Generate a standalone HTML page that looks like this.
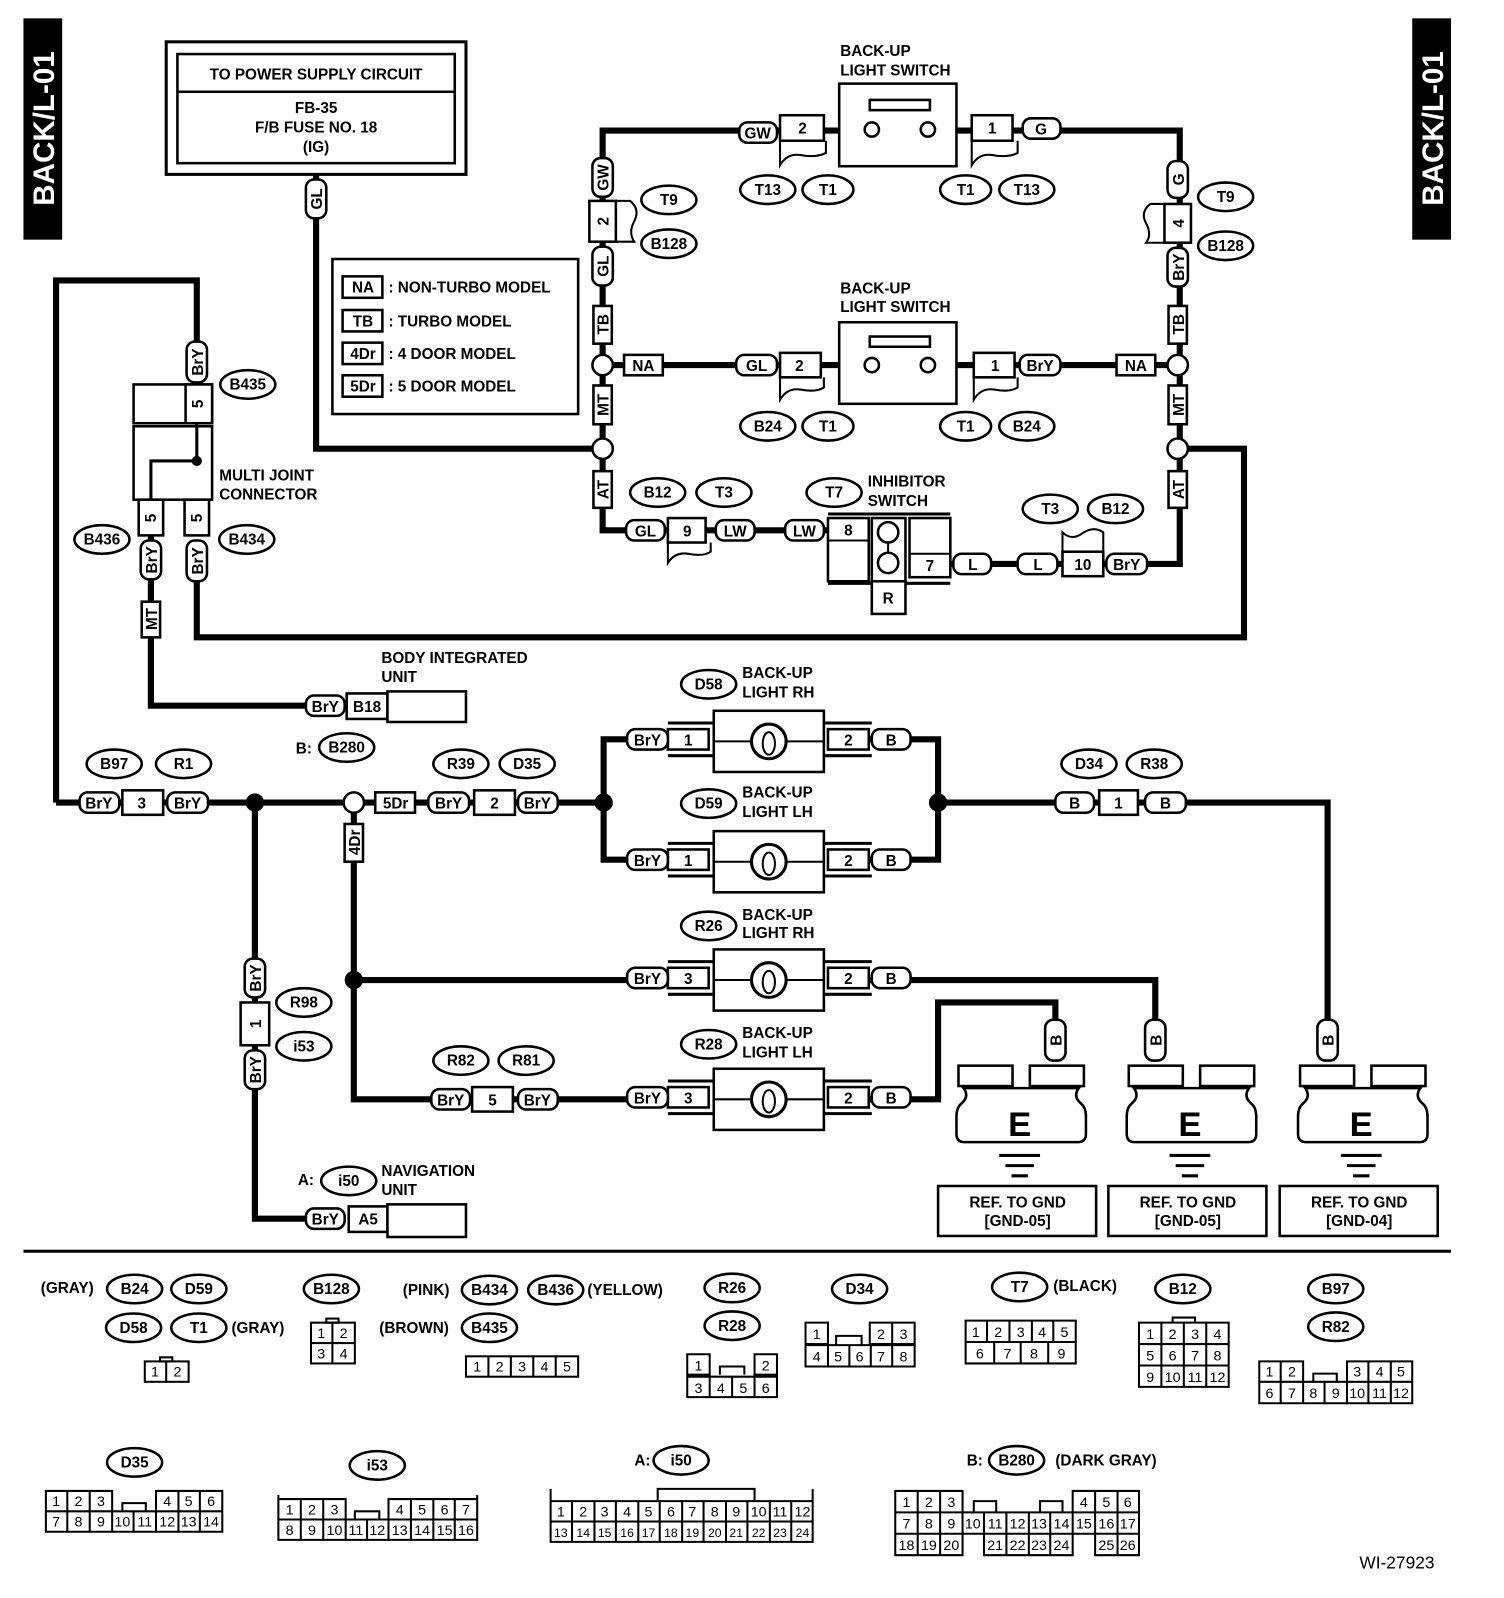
<!DOCTYPE html>
<html><head><meta charset="utf-8"><style>
html,body{margin:0;padding:0;background:#fff}
svg{display:block}
text{font-family:"Liberation Sans",sans-serif;font-weight:bold;font-size:15px;text-anchor:middle;fill:#000}
.l{text-anchor:start}
.w{fill:none;stroke:#000;stroke-width:6}
.b{fill:#fff;stroke:#000;stroke-width:2.5}
.n{fill:none;stroke:#000;stroke-width:2}
.s{font-size:14px;font-weight:normal}
</style></head><body>
<svg width="1504" height="1598" viewBox="0 0 1475 1567" preserveAspectRatio="none" xmlns="http://www.w3.org/2000/svg">
<rect x="23" y="18" width="38" height="217" fill="#000"/>
<text transform="translate(53,126) rotate(-90)" style="font-size:29px;fill:#fff">BACK/L-01</text>
<rect x="1385" y="18" width="38" height="217" fill="#000"/>
<text transform="translate(1415,126) rotate(-90)" style="font-size:29px;fill:#fff">BACK/L-01</text>

<path class="w" d="M310 171V440H591"/>
<path class="w" d="M591 440V128H770M800 128H830M935 128H1157V553H1040"/>
<path class="w" d="M591 358H770M800 358H830M935 358H1155"/>
<path class="w" d="M591 440V520H660M690 520H812"/>
<path class="w" d="M932 553H1045"/>
<path class="w" d="M1155 440H1220V625H193V570"/>
<path class="w" d="M55 787V275H193V380"/>
<path class="w" d="M148 525V692H300"/>
<path class="w" d="M55 787H592"/>
<path class="w" d="M592 787V725H660M592 787V843H660M850 725H920V843H850M920 787H1302V1000"/>
<path class="w" d="M347 787V1078H660M347 961H660M850 961H1133V1000"/>
<path class="w" d="M850 1078H920V983H1035V1000"/>
<path class="w" d="M250 787V1195H300"/>
<path class="n" d="M810 128H823M938 128H953M805 358H823M938 358H955"/>

<!-- connector flags -->
<g class="b" style="stroke-width:2">
<path d="M765 138V162Q772 150 785 152Q800 155 810 150V138"/>
<path d="M953 138V162Q960 150 973 152Q988 155 998 150V138"/>
<path d="M765 370V392Q772 380 785 382Q800 385 808 380V370"/>
<path d="M955 370V392Q962 380 975 382Q990 385 998 380V370"/>
<path d="M655 532V552Q662 541 675 543Q690 546 697 541V532"/>
<path d="M1042 541V522Q1050 530 1060 524Q1072 515 1082 522V541"/>
<path d="M604 197H618Q628 205 622 217Q616 228 622 237H604"/>
<path d="M1142 200H1128Q1118 208 1124 219Q1130 230 1124 238H1142"/>
</g>

<rect x="163" y="41" width="294" height="130" class="b" style="stroke-width:3"/>
<rect x="174" y="53" width="272" height="107" class="b"/>
<line x1="174" y1="90" x2="446" y2="90" class="n" style="stroke-width:2.5"/>
<text x="310" y="78">TO POWER SUPPLY CIRCUIT</text>
<text x="310" y="111">FB-35</text>
<text x="310" y="130">F/B FUSE NO. 18</text>
<text x="310" y="149">(IG)</text>

<rect x="326" y="254" width="241" height="152" class="b"/>
<rect x="336" y="271" width="39" height="21" class="b"/><text x="356" y="287">NA</text><text class="l" x="381" y="287">: NON-TURBO MODEL</text>
<rect x="336" y="304" width="39" height="21" class="b"/><text x="356" y="320">TB</text><text class="l" x="381" y="320">: TURBO MODEL</text>
<rect x="336" y="336" width="39" height="21" class="b"/><text x="356" y="352">4Dr</text><text class="l" x="381" y="352">: 4 DOOR MODEL</text>
<rect x="336" y="368" width="39" height="21" class="b"/><text x="356" y="384">5Dr</text><text class="l" x="381" y="384">: 5 DOOR MODEL</text>

<g>
<rect x="300" y="176" width="20" height="38" rx="8" class="b"/><text transform="translate(316,195) rotate(-90)">GL</text>
<rect x="581" y="155" width="20" height="38" rx="8" class="b"/><text transform="translate(597,174) rotate(-90)">GW</text>
<rect x="578" y="197" width="26" height="40" class="b"/><text transform="translate(597,217) rotate(-90)">2</text>
<rect x="581" y="242" width="20" height="38" rx="8" class="b"/><text transform="translate(597,261) rotate(-90)">GL</text>
<rect x="582" y="300" width="18" height="37" class="b"/><text transform="translate(597,318) rotate(-90)">TB</text>
<rect x="582" y="378" width="18" height="38" class="b"/><text transform="translate(597,397) rotate(-90)">MT</text>
<rect x="582" y="462" width="18" height="36" class="b"/><text transform="translate(597,480) rotate(-90)">AT</text>
<rect x="1145" y="158" width="20" height="36" rx="8" class="b"/><text transform="translate(1161,176) rotate(-90)">G</text>
<rect x="1142" y="200" width="26" height="38" class="b"/><text transform="translate(1161,219) rotate(-90)">4</text>
<rect x="1145" y="243" width="20" height="38" rx="8" class="b"/><text transform="translate(1161,262) rotate(-90)">BrY</text>
<rect x="1146" y="300" width="18" height="37" class="b"/><text transform="translate(1161,318) rotate(-90)">TB</text>
<rect x="1146" y="378" width="18" height="38" class="b"/><text transform="translate(1161,397) rotate(-90)">MT</text>
<rect x="1146" y="462" width="18" height="36" class="b"/><text transform="translate(1161,480) rotate(-90)">AT</text>
<rect x="183" y="335" width="20" height="40" rx="8" class="b"/><text transform="translate(199,355) rotate(-90)">BrY</text>
<rect x="138" y="530" width="20" height="38" rx="8" class="b"/><text transform="translate(154,549) rotate(-90)">BrY</text>
<rect x="183" y="530" width="20" height="40" rx="8" class="b"/><text transform="translate(199,550) rotate(-90)">BrY</text>
<rect x="139" y="590" width="18" height="35" class="b"/><text transform="translate(154,607) rotate(-90)">MT</text>
<rect x="338" y="808" width="18" height="37" class="b"/><text transform="translate(353,826) rotate(-90)">4Dr</text>
<rect x="240" y="940" width="20" height="38" rx="8" class="b"/><text transform="translate(256,959) rotate(-90)">BrY</text>
<rect x="236" y="983" width="28" height="42" class="b"/><text transform="translate(256,1004) rotate(-90)">1</text>
<rect x="240" y="1030" width="20" height="38" rx="8" class="b"/><text transform="translate(256,1049) rotate(-90)">BrY</text>
<rect x="1025" y="1000" width="20" height="40" rx="8" class="b"/><text transform="translate(1041,1020) rotate(-90)">B</text>
<rect x="1123" y="1000" width="20" height="40" rx="8" class="b"/><text transform="translate(1139,1020) rotate(-90)">B</text>
<rect x="1292" y="1000" width="20" height="40" rx="8" class="b"/><text transform="translate(1308,1020) rotate(-90)">B</text>
</g>

<circle cx="591" cy="358" r="10" class="b"/><circle cx="591" cy="440" r="10" class="b"/>
<circle cx="1155" cy="358" r="10" class="b"/><circle cx="1155" cy="440" r="10" class="b"/>
<circle cx="347" cy="787" r="10" class="b"/>
<circle cx="250" cy="787" r="9"/><circle cx="592" cy="787" r="9"/><circle cx="920" cy="787" r="9"/><circle cx="347" cy="961" r="9"/>

<g>
<rect x="725" y="120" width="37" height="20" rx="8" class="b"/><text x="743" y="136">GW</text>
<rect x="765" y="113" width="43" height="25" class="b"/><text x="787" y="131">2</text>
<rect x="953" y="113" width="40" height="25" class="b"/><text x="973" y="131">1</text>
<rect x="1003" y="116" width="37" height="20" rx="8" class="b"/><text x="1021" y="132">G</text>
<rect x="612" y="348" width="38" height="20" class="b"/><text x="631" y="364">NA</text>
<rect x="722" y="348" width="40" height="20" rx="8" class="b"/><text x="742" y="364">GL</text>
<rect x="765" y="346" width="40" height="24" class="b"/><text x="784" y="364">2</text>
<rect x="955" y="346" width="40" height="24" class="b"/><text x="976" y="364">1</text>
<rect x="1000" y="348" width="40" height="20" rx="8" class="b"/><text x="1020" y="364">BrY</text>
<rect x="1095" y="348" width="38" height="20" class="b"/><text x="1114" y="364">NA</text>
<rect x="614" y="510" width="38" height="20" rx="8" class="b"/><text x="633" y="526">GL</text>
<rect x="655" y="508" width="37" height="24" class="b"/><text x="674" y="526">9</text>
<rect x="702" y="510" width="38" height="20" rx="8" class="b"/><text x="721" y="526">LW</text>
<rect x="770" y="510" width="38" height="20" rx="8" class="b"/><text x="789" y="526">LW</text>
<rect x="935" y="543" width="37" height="20" rx="8" class="b"/><text x="954" y="559">L</text>
<rect x="998" y="543" width="39" height="20" rx="8" class="b"/><text x="1018" y="559">L</text>
<rect x="1042" y="541" width="40" height="24" class="b"/><text x="1062" y="559">10</text>
<rect x="1085" y="543" width="40" height="20" rx="8" class="b"/><text x="1105" y="559">BrY</text>
<rect x="300" y="682" width="38" height="20" rx="8" class="b"/><text x="319" y="698">BrY</text>
<rect x="340" y="680" width="40" height="25" class="b"/><text x="360" y="698">B18</text>
<rect x="380" y="678" width="77" height="30" class="b"/>
<rect x="78" y="777" width="39" height="20" rx="8" class="b"/><text x="97" y="793">BrY</text>
<rect x="120" y="775" width="40" height="24" class="b"/><text x="139" y="793">3</text>
<rect x="164" y="777" width="40" height="20" rx="8" class="b"/><text x="184" y="793">BrY</text>
<rect x="368" y="777" width="39" height="20" class="b"/><text x="388" y="793">5Dr</text>
<rect x="420" y="777" width="40" height="20" rx="8" class="b"/><text x="440" y="793">BrY</text>
<rect x="465" y="775" width="40" height="24" class="b"/><text x="485" y="793">2</text>
<rect x="508" y="777" width="39" height="20" rx="8" class="b"/><text x="527" y="793">BrY</text>
<rect x="1035" y="777" width="38" height="20" rx="8" class="b"/><text x="1054" y="793">B</text>
<rect x="1078" y="775" width="38" height="24" class="b"/><text x="1097" y="793">1</text>
<rect x="1123" y="777" width="40" height="20" rx="8" class="b"/><text x="1143" y="793">B</text>
<rect x="423" y="1068" width="38" height="20" rx="8" class="b"/><text x="442" y="1084">BrY</text>
<rect x="463" y="1066" width="40" height="24" class="b"/><text x="483" y="1084">5</text>
<rect x="508" y="1068" width="39" height="20" rx="8" class="b"/><text x="527" y="1084">BrY</text>
<rect x="300" y="1185" width="38" height="20" rx="8" class="b"/><text x="319" y="1201">BrY</text>
<rect x="342" y="1183" width="38" height="25" class="b"/><text x="361" y="1201">A5</text>
<rect x="380" y="1181" width="77" height="32" class="b"/>
</g>

<rect x="823" y="82" width="115" height="81" class="b"/>
<rect x="853" y="98" width="59" height="10" class="b"/>
<circle cx="855" cy="127" r="7" class="b"/><circle cx="910" cy="127" r="7" class="b"/>
<rect x="823" y="316" width="115" height="80" class="b"/>
<rect x="853" y="330" width="59" height="10" class="b"/>
<circle cx="855" cy="358" r="7" class="b"/><circle cx="910" cy="358" r="7" class="b"/>
<text class="l" x="824" y="55">BACK-UP</text><text class="l" x="824" y="74">LIGHT SWITCH</text>
<text class="l" x="824" y="288">BACK-UP</text><text class="l" x="824" y="306">LIGHT SWITCH</text>

<path class="n" style="stroke-width:3" d="M812 504H932M812 572H855M888 572H932"/>
<rect x="812" y="508" width="40" height="62" class="b"/><line x1="812" y1="530" x2="852" y2="530" class="n"/><text x="832" y="525">8</text>
<rect x="855" y="508" width="33" height="62" class="b"/><rect x="855" y="570" width="33" height="32" class="b"/><text x="871" y="592">R</text>
<line x1="871" y1="522" x2="871" y2="552" class="n"/><circle cx="871" cy="522" r="10" class="b"/><circle cx="871" cy="552" r="10" class="b"/>
<rect x="892" y="508" width="40" height="58" class="b"/><line x1="892" y1="543" x2="932" y2="543" class="n"/><text x="912" y="560">7</text>
<text class="l" x="851" y="477">INHIBITOR</text><text class="l" x="851" y="496">SWITCH</text>

<rect x="131" y="377" width="77" height="38" class="b"/><rect x="182" y="377" width="26" height="38" class="b"/><text transform="translate(199,396) rotate(-90)">5</text>
<rect x="131" y="418" width="77" height="72" class="b"/>
<path class="n" style="stroke-width:3" d="M193 415V452H148V490"/><circle cx="193" cy="452" r="5"/>
<rect x="136" y="490" width="24" height="35" class="b"/><text transform="translate(153,508) rotate(-90)">5</text>
<rect x="181" y="490" width="24" height="35" class="b"/><text transform="translate(198,508) rotate(-90)">5</text>
<text class="l" x="215" y="471">MULTI JOINT</text><text class="l" x="215" y="490">CONNECTOR</text>
<text class="l" x="374" y="650">BODY INTEGRATED</text><text class="l" x="374" y="669">UNIT</text>
<text x="298" y="739">B:</text>
<text x="300" y="1162">A:</text>
<text class="l" x="374" y="1153">NAVIGATION</text><text class="l" x="374" y="1172">UNIT</text>

<g id="lamps">
<path class="n" style="stroke-width:3" d="M655 709H700M655 741H700M808 709H855M808 741H855"/>
<rect x="655" y="715" width="40" height="20" class="b"/><text x="675" y="731">1</text>
<rect x="700" y="697" width="108" height="60" class="b"/><line x1="700" y1="727" x2="808" y2="727" class="n"/>
<circle cx="754" cy="727" r="17" class="b" style="stroke-width:3"/><ellipse cx="754" cy="729" rx="6" ry="11" class="n"/>
<rect x="812" y="715" width="40" height="20" class="b"/><text x="832" y="731">2</text>
<rect x="615" y="715" width="40" height="20" rx="8" class="b"/><text x="635" y="731">BrY</text>
<rect x="855" y="715" width="38" height="20" rx="8" class="b"/><text x="874" y="731">B</text>
</g>
<use href="#lamps" y="118"/>
<g transform="translate(0,234)">
<path class="n" style="stroke-width:3" d="M655 709H700M655 741H700M808 709H855M808 741H855"/>
<rect x="655" y="715" width="40" height="20" class="b"/><text x="675" y="731">3</text>
<rect x="700" y="697" width="108" height="60" class="b"/><line x1="700" y1="727" x2="808" y2="727" class="n"/>
<circle cx="754" cy="727" r="17" class="b" style="stroke-width:3"/><ellipse cx="754" cy="729" rx="6" ry="11" class="n"/>
<rect x="812" y="715" width="40" height="20" class="b"/><text x="832" y="731">2</text>
<rect x="615" y="715" width="40" height="20" rx="8" class="b"/><text x="635" y="731">BrY</text>
<rect x="855" y="715" width="38" height="20" rx="8" class="b"/><text x="874" y="731">B</text>
</g>
<g transform="translate(0,351)">
<path class="n" style="stroke-width:3" d="M655 709H700M655 741H700M808 709H855M808 741H855"/>
<rect x="655" y="715" width="40" height="20" class="b"/><text x="675" y="731">3</text>
<rect x="700" y="697" width="108" height="60" class="b"/><line x1="700" y1="727" x2="808" y2="727" class="n"/>
<circle cx="754" cy="727" r="17" class="b" style="stroke-width:3"/><ellipse cx="754" cy="729" rx="6" ry="11" class="n"/>
<rect x="812" y="715" width="40" height="20" class="b"/><text x="832" y="731">2</text>
<rect x="615" y="715" width="40" height="20" rx="8" class="b"/><text x="635" y="731">BrY</text>
<rect x="855" y="715" width="38" height="20" rx="8" class="b"/><text x="874" y="731">B</text>
</g>
<text class="l" x="728" y="665">BACK-UP</text><text class="l" x="728" y="684">LIGHT RH</text>
<text class="l" x="728" y="782">BACK-UP</text><text class="l" x="728" y="801">LIGHT LH</text>
<text class="l" x="728" y="902">BACK-UP</text><text class="l" x="728" y="920">LIGHT RH</text>
<text class="l" x="728" y="1018">BACK-UP</text><text class="l" x="728" y="1037">LIGHT LH</text>

<g id="gnd">
<rect x="940" y="1045" width="53" height="20" class="b"/><rect x="1010" y="1045" width="53" height="20" class="b"/>
<path class="b" d="M945 1067H1058Q1052 1075 1060 1082Q1065 1086 1065 1095V1112Q1065 1120 1057 1120H946Q938 1120 938 1112V1095Q938 1086 943 1082Q951 1075 945 1067Z"/>
<text x="1000" y="1114" style="font-size:34px">E</text>
<path class="n" style="stroke-width:3" d="M980 1133H1020M986 1143H1014M992 1153H1008"/>
<rect x="920" y="1163" width="155" height="49" class="b"/>
</g>
<text x="998" y="1184">REF. TO GND</text><text x="998" y="1202">[GND-05]</text>
<use href="#gnd" x="167"/>
<text x="1165" y="1184">REF. TO GND</text><text x="1165" y="1202">[GND-05]</text>
<use href="#gnd" x="335"/>
<text x="1333" y="1184">REF. TO GND</text><text x="1333" y="1202">[GND-04]</text>

<g>
<ellipse cx="753" cy="186" rx="27" ry="14" class="b"/><text x="753" y="191">T13</text>
<ellipse cx="812" cy="186" rx="25" ry="14" class="b"/><text x="812" y="191">T1</text>
<ellipse cx="947" cy="186" rx="25" ry="14" class="b"/><text x="947" y="191">T1</text>
<ellipse cx="1007" cy="186" rx="27" ry="14" class="b"/><text x="1007" y="191">T13</text>
<ellipse cx="656" cy="196" rx="27" ry="14" class="b"/><text x="656" y="201">T9</text>
<ellipse cx="656" cy="239" rx="27" ry="14" class="b"/><text x="656" y="244">B128</text>
<ellipse cx="1202" cy="193" rx="27" ry="14" class="b"/><text x="1202" y="198">T9</text>
<ellipse cx="1202" cy="241" rx="27" ry="14" class="b"/><text x="1202" y="246">B128</text>
<ellipse cx="753" cy="418" rx="27" ry="14" class="b"/><text x="753" y="423">B24</text>
<ellipse cx="812" cy="418" rx="25" ry="14" class="b"/><text x="812" y="423">T1</text>
<ellipse cx="947" cy="418" rx="25" ry="14" class="b"/><text x="947" y="423">T1</text>
<ellipse cx="1007" cy="418" rx="27" ry="14" class="b"/><text x="1007" y="423">B24</text>
<ellipse cx="645" cy="483" rx="27" ry="14" class="b"/><text x="645" y="488">B12</text>
<ellipse cx="710" cy="483" rx="27" ry="14" class="b"/><text x="710" y="488">T3</text>
<ellipse cx="818" cy="483" rx="27" ry="14" class="b"/><text x="818" y="488">T7</text>
<ellipse cx="1030" cy="499" rx="27" ry="14" class="b"/><text x="1030" y="504">T3</text>
<ellipse cx="1094" cy="499" rx="27" ry="14" class="b"/><text x="1094" y="504">B12</text>
<ellipse cx="243" cy="377" rx="27" ry="14" class="b"/><text x="243" y="382">B435</text>
<ellipse cx="100" cy="529" rx="27" ry="14" class="b"/><text x="100" y="534">B436</text>
<ellipse cx="242" cy="529" rx="27" ry="14" class="b"/><text x="242" y="534">B434</text>
<ellipse cx="340" cy="733" rx="27" ry="14" class="b"/><text x="340" y="738">B280</text>
<ellipse cx="112" cy="749" rx="27" ry="14" class="b"/><text x="112" y="754">B97</text>
<ellipse cx="180" cy="749" rx="27" ry="14" class="b"/><text x="180" y="754">R1</text>
<ellipse cx="452" cy="749" rx="27" ry="14" class="b"/><text x="452" y="754">R39</text>
<ellipse cx="517" cy="749" rx="27" ry="14" class="b"/><text x="517" y="754">D35</text>
<ellipse cx="695" cy="671" rx="27" ry="14" class="b"/><text x="695" y="676">D58</text>
<ellipse cx="695" cy="788" rx="27" ry="14" class="b"/><text x="695" y="793">D59</text>
<ellipse cx="695" cy="908" rx="27" ry="14" class="b"/><text x="695" y="913">R26</text>
<ellipse cx="695" cy="1024" rx="27" ry="14" class="b"/><text x="695" y="1029">R28</text>
<ellipse cx="1068" cy="749" rx="27" ry="14" class="b"/><text x="1068" y="754">D34</text>
<ellipse cx="1132" cy="749" rx="27" ry="14" class="b"/><text x="1132" y="754">R38</text>
<ellipse cx="452" cy="1040" rx="27" ry="14" class="b"/><text x="452" y="1045">R82</text>
<ellipse cx="516" cy="1040" rx="27" ry="14" class="b"/><text x="516" y="1045">R81</text>
<ellipse cx="298" cy="983" rx="27" ry="14" class="b"/><text x="298" y="988">R98</text>
<ellipse cx="298" cy="1026" rx="27" ry="14" class="b"/><text x="298" y="1031">i53</text>
<ellipse cx="342" cy="1158" rx="27" ry="14" class="b"/><text x="342" y="1163">i50</text>
</g>

<line x1="23" y1="1227" x2="1423" y2="1227" class="n" style="stroke-width:3"/>

<g>
<text class="l" x="40" y="1268">(GRAY)</text>
<ellipse cx="132" cy="1264" rx="27" ry="14" class="b"/><text x="132" y="1269">B24</text>
<ellipse cx="195" cy="1264" rx="27" ry="14" class="b"/><text x="195" y="1269">D59</text>
<ellipse cx="131" cy="1302" rx="27" ry="14" class="b"/><text x="131" y="1307">D58</text>
<ellipse cx="195" cy="1302" rx="27" ry="14" class="b"/><text x="195" y="1307">T1</text>
<text class="l" x="227" y="1307">(GRAY)</text>
<ellipse cx="325" cy="1264" rx="27" ry="14" class="b"/><text x="325" y="1269">B128</text>
<text class="l" x="395" y="1270">(PINK)</text>
<ellipse cx="480" cy="1265" rx="27" ry="14" class="b"/><text x="480" y="1270">B434</text>
<ellipse cx="545" cy="1265" rx="27" ry="14" class="b"/><text x="545" y="1270">B436</text>
<text class="l" x="576" y="1270">(YELLOW)</text>
<text class="l" x="372" y="1307">(BROWN)</text>
<ellipse cx="480" cy="1302" rx="27" ry="14" class="b"/><text x="480" y="1307">B435</text>
<ellipse cx="718" cy="1263" rx="27" ry="14" class="b"/><text x="718" y="1268">R26</text>
<ellipse cx="718" cy="1300" rx="27" ry="14" class="b"/><text x="718" y="1305">R28</text>
<ellipse cx="843" cy="1264" rx="27" ry="14" class="b"/><text x="843" y="1269">D34</text>
<ellipse cx="1000" cy="1262" rx="27" ry="14" class="b"/><text x="1000" y="1267">T7</text>
<text class="l" x="1033" y="1266">(BLACK)</text>
<ellipse cx="1160" cy="1264" rx="27" ry="14" class="b"/><text x="1160" y="1269">B12</text>
<ellipse cx="1310" cy="1264" rx="27" ry="14" class="b"/><text x="1310" y="1269">B97</text>
<ellipse cx="1310" cy="1301" rx="27" ry="14" class="b"/><text x="1310" y="1306">R82</text>
<ellipse cx="132" cy="1434" rx="27" ry="14" class="b"/><text x="132" y="1439">D35</text>
<ellipse cx="370" cy="1437" rx="27" ry="14" class="b"/><text x="370" y="1442">i53</text>
<text x="630" y="1437">A:</text>
<ellipse cx="668" cy="1432" rx="27" ry="14" class="b"/><text x="668" y="1437">i50</text>
<text x="956" y="1437">B:</text>
<ellipse cx="997" cy="1432" rx="27" ry="14" class="b"/><text x="997" y="1437">B280</text>
<text class="l" x="1035" y="1437">(DARK GRAY)</text>
</g>

<g>
<rect x="142" y="1335" width="43" height="20" class="n"/><line x1="163" y1="1335" x2="163" y2="1355" class="n"/><rect x="157" y="1331" width="12" height="4" class="n"/>
<text x="152" y="1350" class="s">1</text><text x="174" y="1350" class="s">2</text>
<rect x="305" y="1297" width="43" height="40" class="n"/><path class="n" d="M326 1297V1337M305 1317H348"/><rect x="320" y="1293" width="12" height="4" class="n"/>
<text x="315" y="1312" class="s">1</text><text x="337" y="1312" class="s">2</text><text x="315" y="1332" class="s">3</text><text x="337" y="1332" class="s">4</text>
<rect x="457" y="1330" width="110" height="20" class="n"/><path class="n" d="M479 1330V1350M501 1330V1350M523 1330V1350M545 1330V1350"/>
<text x="468" y="1345" class="s">1</text><text x="490" y="1345" class="s">2</text><text x="512" y="1345" class="s">3</text><text x="534" y="1345" class="s">4</text><text x="556" y="1345" class="s">5</text>
<path class="n" d="M674 1328H696V1348H674ZM740 1328H762V1348H740ZM674 1350H762V1370H674ZM696 1350V1370M718 1350V1370M740 1350V1370M706 1348V1340H730V1348"/>
<text x="685" y="1344" class="s">1</text><text x="751" y="1344" class="s">2</text><text x="685" y="1366" class="s">3</text><text x="707" y="1366" class="s">4</text><text x="729" y="1366" class="s">5</text><text x="751" y="1366" class="s">6</text>
<path class="n" d="M790 1297H812V1318H790ZM853 1297H897V1318H853ZM875 1297V1318M790 1319H897V1340H790ZM812 1319V1340M833 1319V1340M854 1319V1340M875 1319V1340M820 1318V1310H845V1318"/>
<text x="801" y="1313" class="s">1</text><text x="864" y="1313" class="s">2</text><text x="886" y="1313" class="s">3</text><text x="801" y="1335" class="s">4</text><text x="822" y="1335" class="s">5</text><text x="843" y="1335" class="s">6</text><text x="864" y="1335" class="s">7</text><text x="886" y="1335" class="s">8</text>
<path class="n" d="M947 1295H1055V1316H947ZM968 1295V1316M990 1295V1316M1012 1295V1316M1033 1295V1316M947 1316H1055V1337H947ZM975 1316V1337M1001 1316V1337M1028 1316V1337"/>
<text x="957" y="1311" class="s">1</text><text x="979" y="1311" class="s">2</text><text x="1001" y="1311" class="s">3</text><text x="1022" y="1311" class="s">4</text><text x="1044" y="1311" class="s">5</text>
<text x="961" y="1332" class="s">6</text><text x="988" y="1332" class="s">7</text><text x="1014" y="1332" class="s">8</text><text x="1041" y="1332" class="s">9</text>
<path class="n" d="M1117 1297H1205V1360H1117ZM1117 1318H1205M1117 1339H1205M1139 1297V1360M1161 1297V1360M1183 1297V1360M1150 1297V1292H1172V1297"/>
<text x="1128" y="1313" class="s">1</text><text x="1150" y="1313" class="s">2</text><text x="1172" y="1313" class="s">3</text><text x="1194" y="1313" class="s">4</text>
<text x="1128" y="1334" class="s">5</text><text x="1150" y="1334" class="s">6</text><text x="1172" y="1334" class="s">7</text><text x="1194" y="1334" class="s">8</text>
<text x="1128" y="1355" class="s">9</text><text x="1150" y="1355" class="s">10</text><text x="1172" y="1355" class="s">11</text><text x="1194" y="1355" class="s">12</text>
<path class="n" d="M1235 1335H1278V1355H1235ZM1256 1335V1355M1321 1335H1385V1355H1321ZM1342 1335V1355M1364 1335V1355M1235 1355H1385V1376H1235ZM1256 1355V1376M1278 1355V1376M1299 1355V1376M1321 1355V1376M1342 1355V1376M1364 1355V1376M1288 1355V1347H1311V1355"/>
<text x="1245" y="1350" class="s">1</text><text x="1267" y="1350" class="s">2</text><text x="1331" y="1350" class="s">3</text><text x="1353" y="1350" class="s">4</text><text x="1374" y="1350" class="s">5</text>
<text x="1245" y="1371" class="s">6</text><text x="1267" y="1371" class="s">7</text><text x="1288" y="1371" class="s">8</text><text x="1310" y="1371" class="s">9</text><text x="1331" y="1371" class="s">10</text><text x="1353" y="1371" class="s">11</text><text x="1374" y="1371" class="s">12</text>
<path class="n" d="M45 1462H110V1482H45ZM66 1462V1482M88 1462V1482M153 1462H218V1482H153ZM175 1462V1482M196 1462V1482M45 1482H218V1502H45ZM66 1482V1502M88 1482V1502M110 1482V1502M131 1482V1502M153 1482V1502M175 1482V1502M196 1482V1502M120 1482V1474H143V1482"/>
<text x="55" y="1477" class="s">1</text><text x="77" y="1477" class="s">2</text><text x="99" y="1477" class="s">3</text><text x="164" y="1477" class="s">4</text><text x="185" y="1477" class="s">5</text><text x="207" y="1477" class="s">6</text>
<text x="55" y="1497" class="s">7</text><text x="77" y="1497" class="s">8</text><text x="99" y="1497" class="s">9</text><text x="120" y="1497" class="s">10</text><text x="142" y="1497" class="s">11</text><text x="164" y="1497" class="s">12</text><text x="185" y="1497" class="s">13</text><text x="207" y="1497" class="s">14</text>
<path class="n" d="M273 1470H339V1490H273ZM295 1470V1490M317 1470V1490M381 1470H468V1490H381ZM403 1470V1490M425 1470V1490M446 1470V1490M273 1490H468V1510H273ZM295 1490V1510M317 1490V1510M339 1490V1510M360 1490V1510M381 1490V1510M403 1490V1510M425 1490V1510M446 1490V1510M348 1490V1482H372V1490M273 1466V1470M468 1466V1470"/>
<text x="284" y="1485" class="s">1</text><text x="306" y="1485" class="s">2</text><text x="328" y="1485" class="s">3</text><text x="392" y="1485" class="s">4</text><text x="414" y="1485" class="s">5</text><text x="436" y="1485" class="s">6</text><text x="457" y="1485" class="s">7</text>
<text x="284" y="1505" class="s">8</text><text x="306" y="1505" class="s">9</text><text x="328" y="1505" class="s">10</text><text x="349" y="1505" class="s">11</text><text x="370" y="1505" class="s">12</text><text x="392" y="1505" class="s">13</text><text x="414" y="1505" class="s">14</text><text x="436" y="1505" class="s">15</text><text x="457" y="1505" class="s">16</text>
<path class="n" d="M540 1472H797V1512H540ZM540 1492H797M561 1472V1512M583 1472V1512M604 1472V1512M626 1472V1512M647 1472V1512M669 1472V1512M690 1472V1512M712 1472V1512M733 1472V1512M755 1472V1512M776 1472V1512M540 1472V1460M797 1472V1460M645 1472V1460H740V1472"/>
<text x="550" y="1487" class="s">1</text><text x="572" y="1487" class="s">2</text><text x="593" y="1487" class="s">3</text><text x="615" y="1487" class="s">4</text><text x="636" y="1487" class="s">5</text><text x="658" y="1487" class="s">6</text><text x="679" y="1487" class="s">7</text><text x="701" y="1487" class="s">8</text><text x="722" y="1487" class="s">9</text><text x="744" y="1487" class="s">10</text><text x="765" y="1487" class="s">11</text><text x="787" y="1487" class="s">12</text>
<text x="550" y="1507" class="s" style="font-size:12px">13</text><text x="572" y="1507" class="s" style="font-size:12px">14</text><text x="593" y="1507" class="s" style="font-size:12px">15</text><text x="615" y="1507" class="s" style="font-size:12px">16</text><text x="636" y="1507" class="s" style="font-size:12px">17</text><text x="658" y="1507" class="s" style="font-size:12px">18</text><text x="679" y="1507" class="s" style="font-size:12px">19</text><text x="701" y="1507" class="s" style="font-size:12px">20</text><text x="722" y="1507" class="s" style="font-size:12px">21</text><text x="744" y="1507" class="s" style="font-size:12px">22</text><text x="765" y="1507" class="s" style="font-size:12px">23</text><text x="787" y="1507" class="s" style="font-size:12px">24</text>
<path class="n" d="M878 1462H944V1483H878ZM900 1462V1483M922 1462V1483M1052 1462H1117V1483H1052ZM1074 1462V1483M1096 1462V1483M878 1483H1117V1504H878ZM900 1483V1504M922 1483V1504M944 1483V1504M965 1483V1504M987 1483V1504M1009 1483V1504M1030 1483V1504M1052 1483V1504M1074 1483V1504M1096 1483V1504M878 1504H944V1525H878ZM900 1504V1525M922 1504V1525M965 1504H1052V1525H965ZM987 1504V1525M1009 1504V1525M1030 1504V1525M1074 1504H1117V1525H1074ZM1096 1504V1525M955 1483V1472H977V1483M1020 1483V1472H1042V1483"/>
<text x="889" y="1478" class="s">1</text><text x="911" y="1478" class="s">2</text><text x="933" y="1478" class="s">3</text><text x="1063" y="1478" class="s">4</text><text x="1085" y="1478" class="s">5</text><text x="1106" y="1478" class="s">6</text>
<text x="889" y="1499" class="s">7</text><text x="911" y="1499" class="s">8</text><text x="933" y="1499" class="s">9</text><text x="954" y="1499" class="s">10</text><text x="976" y="1499" class="s">11</text><text x="998" y="1499" class="s">12</text><text x="1019" y="1499" class="s">13</text><text x="1041" y="1499" class="s">14</text><text x="1063" y="1499" class="s">15</text><text x="1085" y="1499" class="s">16</text><text x="1106" y="1499" class="s">17</text>
<text x="889" y="1520" class="s">18</text><text x="911" y="1520" class="s">19</text><text x="933" y="1520" class="s">20</text><text x="976" y="1520" class="s">21</text><text x="998" y="1520" class="s">22</text><text x="1019" y="1520" class="s">23</text><text x="1041" y="1520" class="s">24</text><text x="1085" y="1520" class="s">25</text><text x="1106" y="1520" class="s">26</text>
</g>

<text x="1370" y="1538" style="font-weight:normal;font-size:17px">WI-27923</text>
</svg>
</body></html>
